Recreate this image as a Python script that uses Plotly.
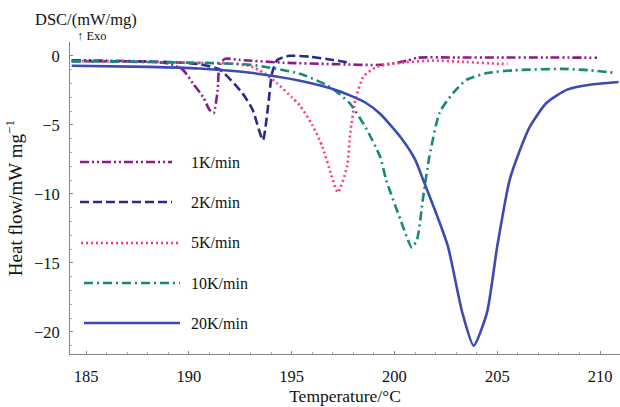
import plotly.graph_objects as go

# ---------------- data ----------------
series_names = ["1K/min", "2K/min", "5K/min", "10K/min", "20K/min"]

t_1k = [184.3, 186.0, 188.0, 189.0, 189.7, 190.2, 190.7, 191.0, 191.2, 191.4, 191.5, 191.75, 192.5, 194.6, 197.0, 199.4, 200.6, 201.1, 203.0, 205.1, 207.5, 209.85]
h_1k = [-0.32, -0.35, -0.42, -0.55, -1.0, -2.0, -3.0, -3.9, -4.15, -2.5, -0.65, -0.22, -0.3, -0.5, -0.6, -0.65, -0.36, -0.14, -0.12, -0.12, -0.12, -0.14]

t_2k = [184.3, 187.0, 189.0, 190.5, 191.5, 192.6, 193.1, 193.6, 193.85, 194.05, 194.3, 194.9, 195.9, 197.0, 197.8]
h_2k = [-0.38, -0.4, -0.45, -0.6, -1.0, -2.7, -3.9, -6.1, -3.7, -1.25, -0.3, 0.0, -0.07, -0.3, -0.5]

t_5k = [184.3, 187.0, 190.0, 192.0, 193.0, 193.6, 194.3, 195.0, 195.4, 196.0, 196.5, 196.9, 197.25, 197.7, 197.85, 198.1, 198.5, 199.15, 200.3, 201.9, 203.5, 205.1, 205.5]
h_5k = [-0.38, -0.42, -0.5, -0.55, -0.75, -1.2, -2.0, -3.0, -3.6, -5.0, -6.6, -8.5, -9.9, -8.0, -5.6, -3.2, -1.5, -0.8, -0.5, -0.35, -0.45, -0.58, -0.58]

t_10k = [184.3, 188.1, 193.0, 195.4, 196.8, 197.8, 198.6, 199.3, 199.6, 200.3, 200.85, 201.1, 201.4, 201.7, 202.2, 202.85, 203.5, 204.5, 205.8, 208.2, 209.5, 210.8]
h_10k = [-0.4, -0.45, -0.65, -1.3, -2.2, -3.4, -5.2, -7.3, -9.0, -11.9, -13.9, -13.3, -10.2, -7.3, -4.1, -2.7, -1.74, -1.25, -1.05, -0.95, -1.05, -1.25]

t_20k = [184.3, 188.1, 190.5, 193.0, 195.4, 197.0, 197.8, 198.6, 199.3, 200.3, 201.0, 201.4, 202.0, 202.6, 203.3, 203.85, 204.5, 205.0, 205.6, 205.96, 206.6, 207.4, 208.4, 209.5, 210.9]
h_20k = [-0.72, -0.8, -0.92, -1.23, -1.8, -2.4, -2.85, -3.4, -4.2, -5.9, -7.5, -9.0, -11.3, -13.8, -18.6, -21.0, -18.6, -13.8, -9.0, -7.4, -5.1, -3.4, -2.45, -2.1, -1.9]

x_ticks = [185, 190, 195, 200, 205, 210]
y_ticks = [0, -5, -10, -15, -20]

# ---------------- styles ----------------
colors = ["#8a1c87", "#2b2a8c", "#ff3a7c", "#16897c", "#3b4bb3"]
dashes = ["9px,3px,2px,3px,2px,3px", "9px,4px", "2px,3px", "9px,4px,2px,4px", "solid"]
xs = [t_1k, t_2k, t_5k, t_10k, t_20k]
ys = [h_1k, h_2k, h_5k, h_10k, h_20k]

FONT = "Liberation Serif"
fig = go.Figure()
for name, x, y, c, d in zip(series_names, xs, ys, colors, dashes):
    fig.add_trace(go.Scatter(x=x, y=y, mode="lines", name=name,
                             line=dict(color=c, width=2.6, dash=d, shape="spline", smoothing=0.6),
                             showlegend=False))

# manual legend (line samples + labels) in paper coordinates
L, R, T, B = 70, 620, 42, 354
W, H = R - L, B - T
def px(x):
    return (x - L) / W
def py(y):
    return (B - y) / H

leg_y = [162, 202, 243, 283, 323]
leg_x0 = [80, 80, 81, 84, 84]
leg_x1 = [172, 172, 178, 180, 180]
for name, c, d, yy, x0, x1 in zip(series_names, colors, dashes, leg_y, leg_x0, leg_x1):
    fig.add_shape(type="line", xref="paper", yref="paper", x0=px(x0), x1=px(x1), y0=py(yy), y1=py(yy),
                  line=dict(color=c, width=2.6, dash=d))
    fig.add_annotation(xref="paper", yref="paper", x=px(189), y=py(yy), text=name, showarrow=False,
                       xanchor="left", yanchor="middle", font=dict(family=FONT, size=16, color="#111"))

fig.add_annotation(xref="paper", yref="paper", x=px(33), y=py(19), text="DSC/(mW/mg)", showarrow=False,
                   xanchor="left", yanchor="middle", font=dict(family=FONT, size=16.5, color="#111"))
fig.add_annotation(xref="paper", yref="paper", x=px(75), y=py(36), text="↑ Exo", showarrow=False,
                   xanchor="left", yanchor="middle", font=dict(family=FONT, size=12.5, color="#111"))

fig.update_layout(
    width=620, height=407,
    margin=dict(l=L, r=620 - R, t=T, b=407 - B),
    paper_bgcolor="white", plot_bgcolor="white",
    font=dict(family=FONT, size=16, color="#111"),
    xaxis=dict(range=[184.22, 210.97], tickvals=x_ticks, ticks="inside", ticklen=3, tickcolor="#888",
               showline=True, linecolor="#888", linewidth=1, showgrid=False, zeroline=False,
               minor=dict(dtick=1, ticks="inside", ticklen=2, tickcolor="#aaa"),
               ticklabelstandoff=7, tickfont=dict(family=FONT, size=16.5),
               title=dict(text="Temperature/°C", font=dict(family=FONT, size=17.5), standoff=2)),
    yaxis=dict(range=[-21.6, 1.0], tickvals=y_ticks, ticks="inside", ticklen=3, tickcolor="#888",
               showline=True, linecolor="#888", linewidth=1, showgrid=False, zeroline=False,
               minor=dict(dtick=1, ticks="inside", ticklen=2, tickcolor="#aaa"),
               ticklabelstandoff=6, tickfont=dict(family=FONT, size=16.5),
               title=dict(text="Heat flow/mW mg<sup>−1</sup>", font=dict(family=FONT, size=19), standoff=6)),
)

fig.write_html("out.html")
